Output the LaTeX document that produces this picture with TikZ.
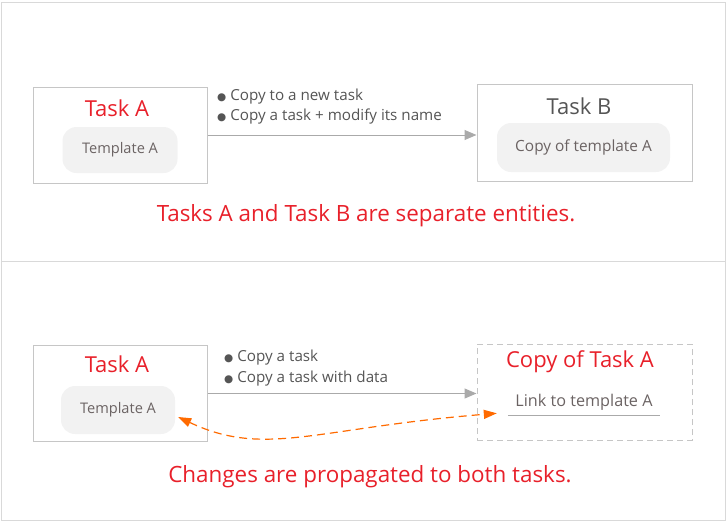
\documentclass[tikz,border=0pt]{standalone}
\usepackage{fontspec}
\setmainfont{Open Sans}
\newfontfamily\bulletfont{DejaVu Sans}
\usepackage{xcolor}
\usepackage{tikz}
\usetikzlibrary{arrows.meta}
\usetikzlibrary{calc}

\definecolor{taskred}{HTML}{E8202A}
\definecolor{framegray}{HTML}{D9D9D9}
\definecolor{boxgray}{HTML}{C6C6C6}
\definecolor{tplfill}{HTML}{F2F2F2}
\definecolor{tpltext}{HTML}{6B6363}
\definecolor{notetext}{HTML}{555555}
\definecolor{arrowgray}{HTML}{AAAAAA}
\definecolor{linkorange}{HTML}{FF6A00}

\newcommand{\notebullet}{{\bulletfont\fontsize{10.5}{12}\selectfont ●}\hspace{4pt}}

\tikzset{
  panel/.style={draw=framegray, line width=1pt},
  taskbox/.style={draw=boxgray, line width=1pt, minimum width=174pt, minimum height=96pt},
  copybox/.style={draw=boxgray, line width=1pt, dash pattern=on 6pt off 4pt, minimum width=215pt, minimum height=96pt},
  tplbox/.style={fill=tplfill, rounded corners=14pt, text=tpltext, font=\fontsize{14.6}{17}\selectfont},
  tasktitle/.style={text=taskred, font=\fontsize{22}{26}\selectfont},
  note/.style={anchor=west, text=notetext, font=\fontsize{15.2}{18}\selectfont, inner sep=0pt},
  caption/.style={text=taskred, font=\fontsize{22.4}{26}\selectfont},
  copyarrow/.style={draw=arrowgray, line width=1pt, -{Triangle[length=12pt, width=10pt]}},
  propagate/.style={draw=linkorange, line width=1.2pt, dash pattern=on 8pt off 5pt,
    {Triangle[length=13pt, width=9pt]}-{Triangle[length=13pt, width=9pt]}}
}

\begin{document}
\begin{tikzpicture}[x=1pt, y=-1pt]
  \useasboundingbox (0,0) rectangle (727,522);
  % panels
  \draw[panel] (1,2) rectangle (725,261);
  \draw[panel] (1,261) rectangle (725,520);

  % top: separate copy
  \node[taskbox] (taskA) at (120,135) {};
  \node[tasktitle] (titleA) at (117,108) {Task A};
  \node[tplbox, minimum width=115pt, minimum height=46pt] (tplA) at (120,150) {Template A};
  \node[taskbox, minimum width=215pt, minimum height=97pt] (taskB) at (584.5,132.5) {};
  \node[tasktitle, text=notetext] (titleB) at (579,106) {Task B};
  \node[tplbox, font=\fontsize{15.4}{18}\selectfont, minimum width=173pt, minimum height=49pt] (tplB) at (583.5,147.5) {Copy of template A};
  \draw[copyarrow] (taskA.east) -- (taskA.east -| taskB.west);
  \node[note] (noteA1) at (217,97) {\notebullet Copy to a new task};
  \node[note] (noteA2) at (217,117) {\notebullet Copy a task + modify its name};
  \node[caption] (capTop) at (366,216) {Tasks A and Task B are separate entities.};

  % bottom: linked copy
  \node[taskbox] (taskA2) at (120,393.5) {};
  \node[tasktitle] (titleA2) at (117,364) {Task A};
  \node[tplbox, minimum width=114pt, minimum height=48pt] (tplA2) at (118,410) {Template A};
  \node[copybox] (copyA) at (584.5,392) {};
  \node[tasktitle] (titleCopy) at (580,362) {Copy of Task A};
  \node[tplbox, fill=none, font=\fontsize{16.2}{19}\selectfont, minimum width=152pt, inner ysep=5pt] (link) at (584,402) {Link to template A};
  \draw[draw=arrowgray, line width=1pt] (link.south west) -- (link.south east);
  \draw[copyarrow] (taskA2.east) -- (taskA2.east -| copyA.west);
  \node[note] (noteB1) at (224,358) {\notebullet Copy a task};
  \node[note] (noteB2) at (224,379) {\notebullet Copy a task with data};
  \draw[propagate] ($(tplA2.east)+(3,7)$) .. controls (265,458) and (315,428) .. ($(link.south west)+(-11,-2)$);
  \node[caption] (capBottom) at (370,477) {Changes are propagated to both tasks.};
\end{tikzpicture}
\end{document}
